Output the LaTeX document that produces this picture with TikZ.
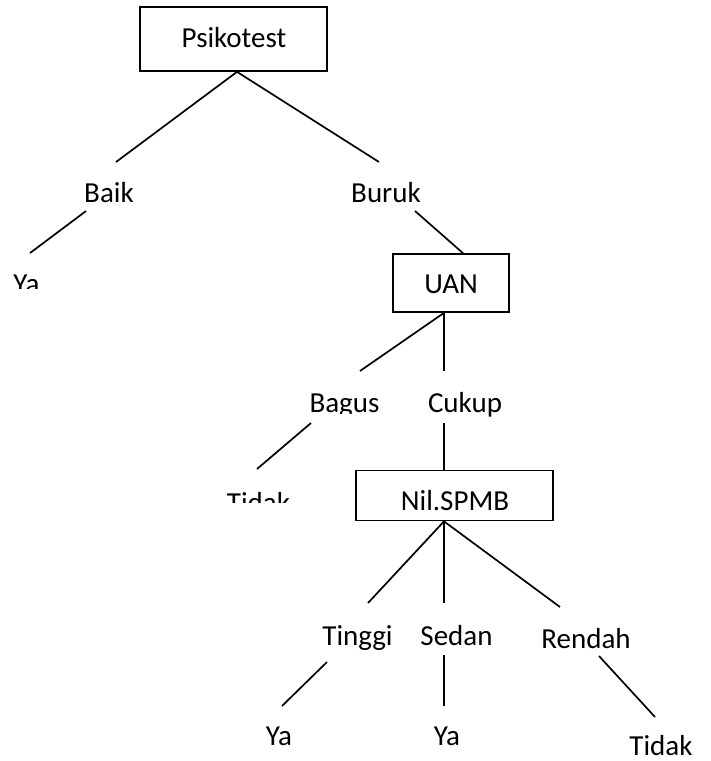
\documentclass[tikz,border=0pt]{standalone}
\usepackage{fontspec}
\setmainfont{Carlito}
\begin{document}
\begin{tikzpicture}[x=1pt,y=-1pt,
  lbl/.style={anchor=base,inner sep=0pt,font=\fontsize{29}{34}\selectfont},
  box/.style={draw,line width=1.7pt,inner sep=0pt},
  link/.style={line width=1.7pt}]
\useasboundingbox (0,0) rectangle (711,761);

% decision boxes
\node[box,minimum width=187pt,minimum height=64pt] (psi) at (233.5,39) {};
\node[box,minimum width=116pt,minimum height=58pt] (uan) at (451,283) {};
\node[box,minimum width=197pt,minimum height=50pt] (spmb) at (454.5,495.5) {};

% box captions
\node[lbl] (psiT) at (234,47) {Psikotest};
\node[lbl] (uanT) at (451,293) {UAN};
\node[lbl] (spmbT) at (455,510) {Nil.SPMB};

% branch labels
\node[lbl] (baik) at (109,202) {Baik};
\node[lbl] (buruk) at (386,202) {Buruk};
\begin{scope}
  \clip (0,260) rectangle (80,288);
  \node[lbl] (ya1) at (26.5,293) {Ya};
\end{scope}
\begin{scope}
  \clip (290,380) rectangle (400,413);
  \node[lbl] (bagus) at (344.5,412) {Bagus};
\end{scope}
\node[lbl] (cukup) at (465,412) {Cukup};
\begin{scope}
  \clip (220,480) rectangle (300,502);
  \node[lbl] (tidak1) at (258.5,512) {Tidak};
\end{scope}
\node[lbl] (tinggi) at (357.5,645) {Tinggi};
\node[lbl] (sedan) at (456.5,645) {Sedan};
\node[lbl] (rendah) at (586,648) {Rendah};
\node[lbl] (ya2) at (279,745) {Ya};
\node[lbl] (ya3) at (447,745) {Ya};
\node[lbl] (tidak2) at (661,755) {Tidak};

% connector end points next to the labels
\coordinate (baikTop) at (116,162);
\coordinate (burukTop) at (379,162);
\coordinate (baikBot) at (86,211);
\coordinate (ya1Top) at (30,253);
\coordinate (burukBot) at (415,211);
\coordinate (bagusTop) at (360,371);
\coordinate (cukupTop) at (444,371);
\coordinate (bagusBot) at (311,423);
\coordinate (tidak1Top) at (257,469);
\coordinate (cukupBot) at (444,423);
\coordinate (tinggiTop) at (368,603);
\coordinate (sedanTop) at (444,603);
\coordinate (rendahTop) at (560,607);
\coordinate (tinggiBot) at (327,662);
\coordinate (ya2Top) at (282,706);
\coordinate (sedanBot) at (444,655);
\coordinate (ya3Top) at (444,706);
\coordinate (rendahBot) at (599,656);
\coordinate (tidak2Top) at (655,717);

% apex points on the box edges
\coordinate (psiApex) at ([xshift=3.5pt]psi.south);
\coordinate (uanApex) at (uan.south -| cukupTop);
\coordinate (spmbApex) at (spmb.south -| sedanTop);

% connectors
\draw[link] (psiApex) -- (baikTop);
\draw[link] (psiApex) -- (burukTop);
\draw[link] (baikBot) -- (ya1Top);
\draw[link] (burukBot) -- (uan.north -| 463,0);
\draw[link] (uanApex) -- (bagusTop);
\draw[link] (uanApex) -- (cukupTop);
\draw[link] (bagusBot) -- (tidak1Top);
\draw[link] (cukupBot) -- (spmb.north -| cukupBot);
\draw[link] (spmbApex) -- (tinggiTop);
\draw[link] (spmbApex) -- (sedanTop);
\draw[link] (spmbApex) -- (rendahTop);
\draw[link] (tinggiBot) -- (ya2Top);
\draw[link] (sedanBot) -- (ya3Top);
\draw[link] (rendahBot) -- (tidak2Top);
\end{tikzpicture}
\end{document}
